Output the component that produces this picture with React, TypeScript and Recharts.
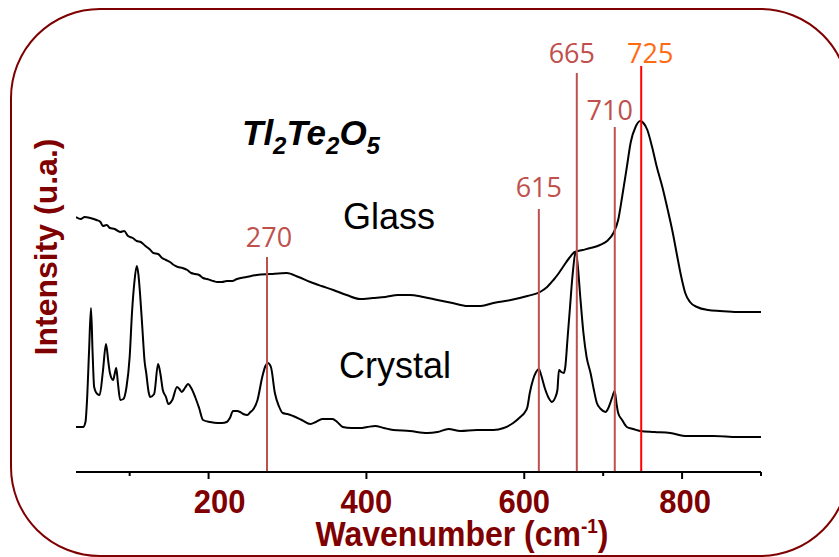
import { LineChart, Line, XAxis, YAxis, ReferenceLine } from "recharts";

// glass spectrum (upper trace), intensity in arbitrary units
const glassWavenumber = [
  32, 38, 43, 50, 58, 63, 66, 71, 75, 81, 88, 93, 98, 104, 109, 114, 120, 125,
  130, 136, 141, 146, 151, 156, 161, 167, 173, 178, 183, 188, 193, 198, 202,
  206, 211, 217, 223, 230, 236, 248, 261, 278, 299, 314, 329, 343, 358, 375,
  392, 408, 424, 440, 455, 472, 490, 509, 528, 545, 561, 583, 604, 620, 629,
  637, 643, 649, 657, 664, 674, 684, 696, 705, 713, 719, 724, 730, 735, 741,
  747, 751, 756, 762, 768, 775, 781, 788, 794, 799, 804, 810, 819, 833, 848,
  870, 900,
];
const glassIntensity = [
  255, 253, 255, 254, 252, 250, 246, 247, 244, 243, 240, 241, 236, 234, 231,
  230, 226, 223, 219, 218, 214, 212, 210, 207, 205, 204, 202, 199, 198, 197,
  194, 193, 192, 191, 190, 190, 191, 191, 193, 195, 197, 198, 199, 195, 190,
  186, 182, 177, 173, 174, 175, 177, 177, 175, 172, 169, 166, 166, 169, 172,
  176, 180, 185, 192, 198, 205, 214, 220, 222, 224, 227, 231, 239, 252, 275,
  305, 330, 345, 351, 349, 342, 325, 305, 285, 265, 240, 215, 195, 179, 170,
  165, 162, 161, 160, 160,
];

// crystal spectrum (lower trace), ten points per row
const crystalWavenumber = [
  32, 41, 44, 46, 48.5, 51, 53, 55, 59, 62,
  66, 70, 73, 75, 79, 81, 83, 85, 88, 92,
  96, 100, 103, 106, 109, 111, 113, 116, 119, 121,
  124, 126, 131, 136, 139, 142, 146, 149, 154, 160,
  163, 166, 170, 174, 178, 183, 188, 193, 202, 211,
  217, 223, 227, 231, 236, 240, 244, 249, 253, 256,
  262, 268, 272, 275, 279, 284, 289, 294, 300, 307,
  318, 329, 336, 344, 350, 357, 363, 370, 381, 392,
  401, 411, 422, 434, 455, 477, 490, 504, 519, 540,
  561, 574, 586, 595, 601, 604, 607, 611, 615, 618.5,
  621, 626, 631, 635, 639, 642, 644, 647, 650, 652,
  655, 658, 661, 665.5, 668, 671, 675, 679, 684, 688,
  692, 697, 703, 706, 709, 712, 714.5, 717, 719, 724,
  730, 738, 747, 765, 785, 806, 840, 870, 900,
];
const crystalIntensity = [
  45, 45, 50, 72, 120, 164, 120, 85, 78, 77,
  100, 128, 110, 99, 92, 98, 104, 90, 72, 73,
  85, 115, 160, 190, 206, 198, 180, 145, 110, 99,
  80, 75, 78, 108, 98, 82, 75, 68, 72, 85,
  83, 80, 84, 88, 84, 75, 64, 52, 50, 49,
  49, 50, 54, 61, 61, 60, 58, 57, 60, 62,
  72, 95, 106, 109, 105, 79, 66, 59, 58, 56,
  52, 48, 50, 53, 53, 53, 50, 45, 44, 44,
  45, 46, 44, 42, 41, 39, 40, 43, 41, 42,
  42, 44, 49, 55, 60, 65, 79, 92, 100, 103,
  98, 84, 74, 70, 74, 82, 102, 100, 99, 105,
  135, 165, 195, 220, 205, 175, 139, 115, 99, 83,
  69, 63, 60, 63, 69, 76, 81, 68, 59, 52,
  45, 43, 41, 40, 39, 36, 36, 35, 35,
];

// assigned bands: where each line stands, its top (same units as intensity), its caption
const markerWavenumber = [274, 618.5, 666.6, 714.7, 748.2];
const markerTop = [215, 263, 399, 345, 406];
const markerLabel = ["270", "615", "665", "710", "725"];

const xTicks = [100, 200, 400, 600, 700, 800, 900];
const xTickLabels = ["200", "400", "600", "800"];

const glassData = glassWavenumber.map((x, i) => ({ x, y: glassIntensity[i] }));
const crystalData = crystalWavenumber.map((x, i) => ({ x, y: crystalIntensity[i] }));

const DARK_RED = "#7f0000";
const BAND_RED = "#c0504d";
const ARIAL = "'Liberation Sans', Arial, sans-serif";

// label offsets copied from the figure (not always centred on the line)
const labelNudge: Record<string, number> = { "270": 2, "615": 0, "665": -5, "710": -5, "725": 9 };
const labelGap: Record<string, number> = { "270": 10, "615": 12, "665": 10, "710": 7, "725": 3 };
const tickNudge: Record<number, number> = { 200: 11, 800: 3 };

// eslint-disable-next-line @typescript-eslint/no-explicit-any
function XTick({ x, y, payload }: any) {
  const v = payload.value as number;
  const major = xTickLabels.includes(String(v));
  return (
    <g>
      <line x1={x} x2={x} y1={y} y2={y + (major ? 7 : 4)} stroke="#000" strokeWidth={2} />
      {major && (
        <text
          transform={`translate(${x + (tickNudge[v] ?? 0)},${y + 41}) scale(1,1.1)`}
          textAnchor="middle"
          fontFamily={ARIAL}
          fontWeight="bold"
          fontSize={31}
          fill={DARK_RED}
        >
          {v}
        </text>
      )}
    </g>
  );
}

function bandLabel(text: string, color: string) {
  // eslint-disable-next-line @typescript-eslint/no-explicit-any
  return ({ viewBox }: any) => (
    <text
      x={viewBox.x + labelNudge[text]}
      y={viewBox.y - labelGap[text]}
      textAnchor="middle"
      fontFamily="'Open Sans', sans-serif"
      fontSize={27}
      fill={color}
    >
      {text}
    </text>
  );
}

export default function App() {
  return (
    <div style={{ position: "absolute", left: 0, top: 0, width: 839, height: 557, overflow: "hidden", background: "#fff" }}>
      <div
        style={{
          position: "absolute",
          left: 10,
          top: 8,
          width: 840,
          height: 549,
          border: `2px solid ${DARK_RED}`,
          borderRadius: 90,
          boxSizing: "border-box",
        }}
      />
      <div style={{ position: "absolute", left: 0, top: 0 }}>
        <LineChart
          width={839}
          height={557}
          margin={{ top: 73, right: 78, bottom: 45, left: 76 }}
        >
          <XAxis
            dataKey="x"
            type="number"
            domain={[32, 900]}
            ticks={xTicks}
            tick={<XTick />}
            tickSize={0}
            tickMargin={0}
            tickLine={false}
            axisLine={{ stroke: "#000", strokeWidth: 2 }}
            height={40}
            allowDataOverflow
          />
          <YAxis
            type="number"
            domain={[0, 399]}
            tick={false}
            tickLine={false}
            axisLine={{ stroke: "#000", strokeWidth: 2 }}
            width={0}
            allowDataOverflow
          />
          <Line
            data={glassData}
            dataKey="y"
            type="monotone"
            stroke="#000"
            strokeWidth={2}
            dot={false}
            isAnimationActive={false}
          />
          <Line
            data={crystalData}
            dataKey="y"
            type="monotone"
            stroke="#000"
            strokeWidth={2}
            dot={false}
            isAnimationActive={false}
          />
          {markerWavenumber.map((x, i) => {
            const color = markerLabel[i] === "725" ? "#ff0000" : BAND_RED;
            const textColor = markerLabel[i] === "725" ? "#ff6a13" : BAND_RED;
            return (
              <ReferenceLine
                key={markerLabel[i]}
                segment={[
                  { x, y: markerTop[i] },
                  { x, y: 0 },
                ]}
                stroke={color}
                strokeWidth={2}
                ifOverflow="visible"
                label={bandLabel(markerLabel[i], textColor)}
              />
            );
          })}
        </LineChart>
      </div>
      <svg
        width={839}
        height={557}
        style={{ position: "absolute", left: 0, top: 0, pointerEvents: "none" }}
      >
        <text
          transform="translate(57,247) rotate(-90)"
          textAnchor="middle"
          fontFamily={ARIAL}
          fontWeight="bold"
          fontSize={32}
          fill={DARK_RED}
        >
          Intensity (u.a.)
        </text>
        <text
          transform="translate(462,546) scale(1,1.1)"
          textAnchor="middle"
          fontFamily={ARIAL}
          fontWeight="bold"
          fontSize={32}
          fill={DARK_RED}
        >
          Wavenumber (cm
          <tspan fontSize={19} dy={-12}>-1</tspan>
          <tspan dy={12}>)</tspan>
        </text>
        <text x={242} y={145} fontFamily={ARIAL} fontWeight="bold" fontStyle="italic" fontSize={35} fill="#000">
          Tl
          <tspan fontSize={24} dy={9}>2</tspan>
          <tspan dy={-9}>Te</tspan>
          <tspan fontSize={24} dy={9}>2</tspan>
          <tspan dy={-9}>O</tspan>
          <tspan fontSize={24} dy={9}>5</tspan>
        </text>
        <text x={343} y={229} fontFamily={ARIAL} fontSize={36} fill="#000">
          Glass
        </text>
        <text x={339} y={378} fontFamily={ARIAL} fontSize={36} fill="#000">
          Crystal
        </text>
      </svg>
    </div>
  );
}
